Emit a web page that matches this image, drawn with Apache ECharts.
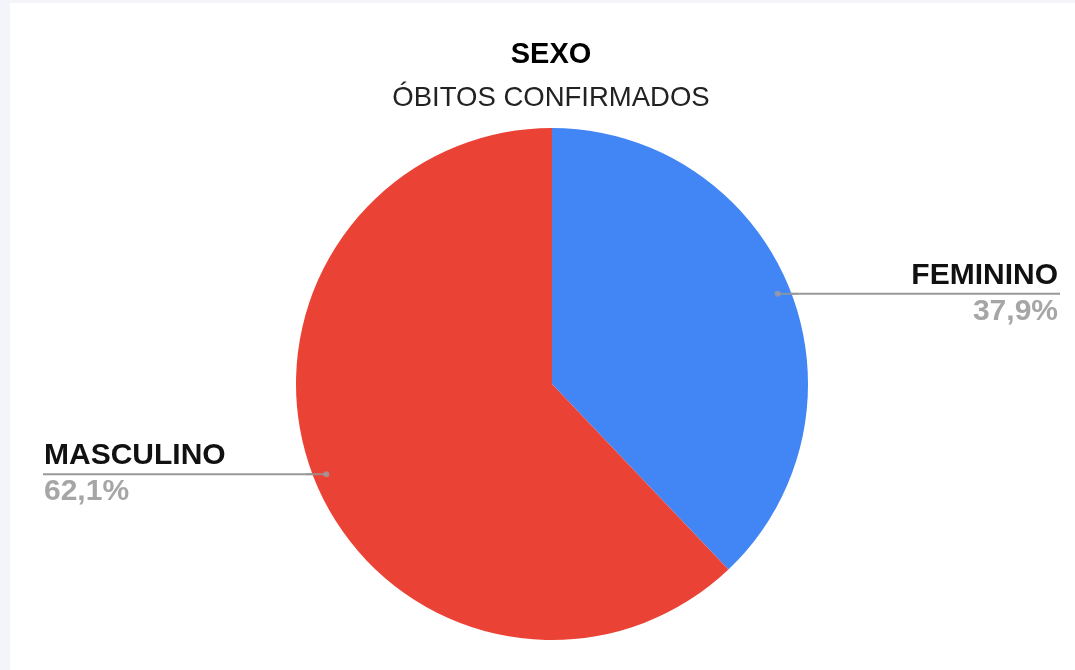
<!DOCTYPE html>
<html>
<head>
<meta charset="utf-8">
<script src="https://cdn.jsdelivr.net/npm/echarts@6/dist/echarts.min.js"></script>
<style>
  html, body { margin: 0; padding: 0; background: #f3f5fa; width: 1075px; height: 670px; overflow: hidden; }
  #chart { position: absolute; left: 10px; top: 3px; width: 1065px; height: 667px; background: #ffffff; }
</style>
</head>
<body>
<div id="chart"></div>
<script>
const titleText = 'SEXO';
const subtitleText = 'ÓBITOS CONFIRMADOS';
const categories = ['FEMININO', 'MASCULINO'];
const values = [37.9, 62.1];
const sliceColors = ['#4285f4', '#ea4335'];
const labelEdge = [17, 34];

const FONT = '"Liberation Sans", Arial, sans-serif';
const CENTER = [542, 381];
const RADIUS = 256;
const DOT_R = 243;
const LINE_COLOR = '#999999';

const total = values.reduce((a, b) => a + b, 0);
let acc = 0;
const dotData = values.map(v => {
  const mid = acc + v / 2;
  acc += v;
  return [1, mid / total * 100];
});
const stubData = dotData.map(d => ({
  value: d,
  symbolOffset: [d[1] < 50 ? 10 : -10, 0]
}));

function fmtPct(v) {
  return (v / total * 100).toFixed(1).replace('.', ',') + '%';
}

const chart = echarts.init(document.getElementById('chart'));
chart.setOption({
  animation: false,
  title: [
    {
      text: titleText, left: 536, top: 32, textAlign: 'center',
      textStyle: { fontFamily: FONT, fontSize: 29, fontWeight: 'bold', color: '#000', lineHeight: 29 }
    },
    {
      text: subtitleText, left: 536, top: 76, textAlign: 'center',
      textStyle: { fontFamily: FONT, fontSize: 27.5, fontWeight: 'normal', color: '#222', lineHeight: 28 }
    }
  ],
  polar: { center: CENTER, radius: DOT_R },
  angleAxis: { type: 'value', min: 0, max: 100, startAngle: 90, clockwise: true, show: false },
  radiusAxis: { type: 'value', min: 0, max: 1, show: false },
  series: [
    {
      type: 'pie',
      center: CENTER,
      radius: RADIUS,
      startAngle: 90,
      clockwise: true,
      silent: true,
      avoidLabelOverlap: false,
      label: {
        show: true,
        position: 'outside',
        alignTo: 'edge',
        distanceToLabelLine: 0,
        formatter: p => '{name|' + p.name + '}\n{per|' + fmtPct(p.value) + '}',
        rich: {
          name: { fontFamily: FONT, fontSize: 30, fontWeight: 'bold', color: '#111', lineHeight: 36 },
          per: { fontFamily: FONT, fontSize: 30, fontWeight: 'bold', color: '#a6a6a6', lineHeight: 36 }
        }
      },
      labelLine: {
        show: true, showAbove: true, length: 10, length2: 10,
        lineStyle: { color: LINE_COLOR, width: 2 }
      },
      labelLayout: function (params) {
        const pts = params.labelLinePoints;
        const r = params.labelRect;
        if (!pts || !r) return {};
        const e = pts[0];
        const k = DOT_R / RADIUS;
        const dx = CENTER[0] + (e[0] - CENTER[0]) * k;
        const dy = CENTER[1] + (e[1] - CENTER[1]) * k;
        const right = e[0] > CENTER[0];
        const nearX = right ? r.x : r.x + r.width;
        const farX = right ? r.x + r.width + 2 : r.x - 1;
        return {
          y: dy,
          verticalAlign: 'middle',
          labelLinePoints: [[dx, dy], [nearX, dy], [farX, dy]]
        };
      },
      data: categories.map((c, i) => ({
        name: c, value: values[i],
        itemStyle: { color: sliceColors[i] },
        label: { edgeDistance: labelEdge[i] }
      }))
    },
    {
      type: 'scatter',
      coordinateSystem: 'polar',
      symbol: 'rect',
      symbolSize: [20, 2],
      silent: true,
      z: 4,
      itemStyle: { color: LINE_COLOR },
      data: stubData
    },
    {
      type: 'scatter',
      coordinateSystem: 'polar',
      symbolSize: 6,
      silent: true,
      z: 5,
      itemStyle: { color: '#9e9e9e' },
      data: dotData
    }
  ]
});
</script>
</body>
</html>
